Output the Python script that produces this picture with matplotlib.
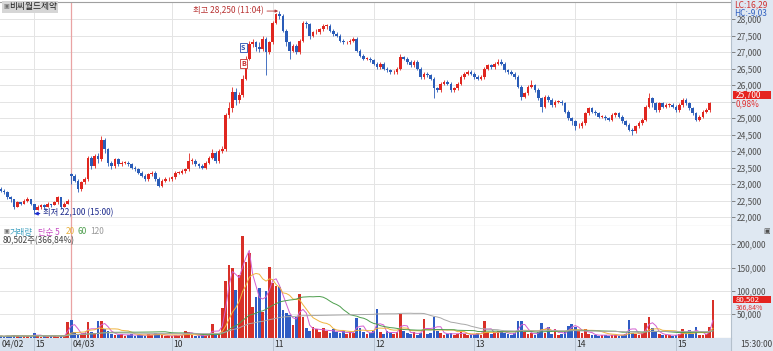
import matplotlib
matplotlib.use("Agg")
import matplotlib.pyplot as plt
import matplotlib.transforms as mtransforms
from matplotlib.patches import Rectangle
from matplotlib.ticker import FuncFormatter
import numpy as np
import pandas as pd

plt.rcParams['font.family'] = ['Noto Sans CJK KR', 'DejaVu Sans']
plt.rcParams['font.size'] = 6

stock_name = "비씨월드제약"
hi_label = "최고 28,250 (11:04)"
lo_label = "최저 22,100 (15:00)"

# 2-minute candles, 04/02 14:40-15:20
day1_opens = [22850, 22800, 22750, 22600, 22550, 22300, 22450, 22400, 22500, 22550,
              22400, 22200, 22300, 22350, 22300, 22400, 22350, 22450, 22600, 22300, 22400]
day1_highs = [22900, 22850, 22800, 22650, 22550, 22500, 22450, 22550, 22600, 22550,
              22400, 22350, 22400, 22400, 22450, 22400, 22500, 22650, 22600, 22450, 22550]
day1_lows = [22750, 22700, 22550, 22450, 22250, 22300, 22350, 22400, 22450, 22350,
             22100, 22200, 22250, 22250, 22300, 22300, 22350, 22400, 22250, 22300, 22400]
day1_closes = [22800, 22750, 22600, 22550, 22300, 22450, 22400, 22500, 22550, 22400,
               22200, 22300, 22350, 22300, 22400, 22350, 22450, 22600, 22300, 22400, 22500]
day1_vol_k = [3, 2, 4, 3, 5, 3, 2, 4, 3, 2, 10, 3, 2, 3, 2, 4, 3, 2, 3, 4, 34]

# 2-minute candles, 04/03 09:00-15:20, last one = closing auction
day2_opens = [
    23300, 23250, 23100, 22850, 23050, 23150, 23800, 23550, 23850, 23750,
    24350, 24050, 23650, 23550, 23750, 23600, 23650, 23650, 23600, 23500,
    23450, 23350, 23250, 23150, 23300, 23350, 23150, 22950, 23100, 23150,
    23150, 23200, 23350, 23350, 23400, 23450, 23700, 23700, 23600, 23550,
    23500, 23650, 23800, 23950, 23700, 24000, 24050, 25100, 25300, 25800,
    25550, 25700, 26200, 26800, 27250, 27300, 27150, 27100, 27400, 27000,
    27300, 27900, 28150, 28100, 27650, 27300, 27050, 27200, 27000, 27350,
    27900, 27850, 27500, 27600, 27600, 27700, 27800, 27800, 27650, 27550,
    27500, 27350, 27300, 27300, 27350, 27400, 27050, 26900, 26800, 26800,
    26750, 26650, 26550, 26650, 26500, 26450, 26400, 26400, 26500, 26850,
    26800, 26700, 26600, 26700, 26500, 26250, 26350, 26300, 26200, 25900,
    25850, 26050, 26100, 26050, 25850, 25900, 26050, 26250, 26350, 26400,
    26350, 26250, 26200, 26250, 26500, 26600, 26550, 26650, 26700, 26650,
    26450, 26400, 26350, 26250, 25950, 25650, 25750, 25950, 26000, 25850,
    25600, 25350, 25650, 25550, 25400, 25500, 25500, 25450, 25200, 25000,
    24900, 24750, 24750, 24850, 25150, 25300, 25200, 25150, 25050, 25050,
    25000, 24950, 25100, 25150, 25050, 24900, 24800, 24650, 24600, 24750,
    24850, 24950, 25350, 25600, 25450, 25250, 25450, 25350, 25400, 25400,
    25350, 25250, 25400, 25550, 25450, 25300, 25150, 24950, 25050, 25200,
    25250, 25700]
day2_highs = [
    23350, 23300, 23150, 23100, 23200, 23850, 23850, 23900, 23950, 24450,
    24400, 24100, 23700, 23800, 23800, 23700, 23700, 23700, 23650, 23550,
    23500, 23400, 23300, 23350, 23400, 23400, 23200, 23150, 23200, 23200,
    23250, 23400, 23400, 23450, 23500, 23950, 23800, 23750, 23650, 23600,
    23700, 23850, 24050, 24000, 24050, 24150, 25150, 25500, 25950, 25900,
    25800, 26300, 26900, 27350, 27400, 27350, 27300, 27500, 27450, 27350,
    27950, 28200, 28250, 28150, 27700, 27350, 27250, 27250, 27400, 27950,
    27950, 27900, 27650, 27700, 27750, 27850, 27850, 27850, 27700, 27600,
    27550, 27400, 27350, 27400, 27450, 27450, 27100, 26950, 26850, 26850,
    26800, 26700, 26700, 26700, 26550, 26500, 26450, 26550, 26950, 26900,
    26850, 26750, 26750, 26750, 26550, 26400, 26400, 26350, 26250, 25950,
    26100, 26150, 26150, 26100, 25950, 26100, 26300, 26400, 26450, 26450,
    26400, 26300, 26300, 26550, 26650, 26650, 26700, 26800, 26800, 26700,
    26500, 26450, 26400, 26300, 26000, 25800, 26000, 26150, 26050, 25900,
    25650, 25700, 25700, 25600, 25550, 25550, 25550, 25500, 25250, 25050,
    24950, 24850, 24900, 25200, 25350, 25350, 25250, 25200, 25100, 25100,
    25050, 25150, 25200, 25200, 25100, 24950, 24850, 24700, 24800, 24900,
    25000, 25400, 25750, 25650, 25500, 25500, 25500, 25450, 25450, 25450,
    25400, 25450, 25600, 25600, 25500, 25350, 25200, 25100, 25250, 25300,
    25500, 25700]
day2_lows = [
    23000, 23050, 22750, 22800, 23000, 23100, 23450, 23500, 23650, 23700,
    23950, 23550, 23450, 23500, 23550, 23550, 23600, 23550, 23450, 23400,
    23300, 23200, 23100, 23100, 23250, 23100, 22900, 22900, 23050, 23100,
    23100, 23150, 23300, 23300, 23350, 23400, 23600, 23550, 23500, 23450,
    23450, 23600, 23750, 23650, 23650, 23950, 24000, 25000, 25200, 25400,
    25450, 25650, 26150, 26750, 27150, 27050, 27000, 27050, 26300, 26950,
    27250, 27850, 28000, 27600, 27200, 26800, 27000, 26950, 26950, 27300,
    27750, 27400, 27450, 27550, 27550, 27650, 27700, 27600, 27500, 27450,
    27300, 27250, 27250, 27250, 27300, 27000, 26850, 26750, 26750, 26700,
    26600, 26500, 26500, 26450, 26400, 26350, 26350, 26350, 26450, 26750,
    26650, 26550, 26550, 26450, 26200, 26200, 26250, 26150, 25600, 25800,
    25800, 26000, 26000, 25800, 25800, 25850, 26000, 26200, 26300, 26300,
    26200, 26150, 26150, 26200, 26450, 26500, 26500, 26600, 26600, 26400,
    26350, 26300, 26200, 25900, 25550, 25600, 25700, 25900, 25800, 25550,
    25200, 25300, 25500, 25350, 25350, 25450, 25400, 25150, 24950, 24800,
    24650, 24700, 24700, 24800, 25100, 25150, 25100, 25000, 25000, 24950,
    24900, 24900, 25050, 25000, 24850, 24750, 24600, 24500, 24550, 24700,
    24800, 24900, 25300, 25350, 25200, 25200, 25300, 25300, 25350, 25300,
    25200, 25200, 25350, 25400, 25250, 25100, 24900, 24900, 25000, 25150,
    25200, 25700]
day2_closes = [
    23250, 23100, 22850, 23050, 23150, 23800, 23550, 23850, 23750, 24350,
    24050, 23650, 23550, 23750, 23600, 23650, 23650, 23600, 23500, 23450,
    23350, 23250, 23150, 23300, 23350, 23150, 22950, 23100, 23150, 23150,
    23200, 23350, 23350, 23400, 23450, 23700, 23700, 23600, 23550, 23500,
    23650, 23800, 23950, 23700, 24000, 24050, 25100, 25300, 25800, 25550,
    25700, 26200, 26800, 27250, 27300, 27150, 27100, 27400, 27000, 27300,
    27900, 28150, 28100, 27650, 27300, 27050, 27200, 27000, 27350, 27900,
    27850, 27500, 27600, 27600, 27700, 27800, 27800, 27650, 27550, 27500,
    27350, 27300, 27300, 27350, 27400, 27050, 26900, 26800, 26800, 26750,
    26650, 26550, 26650, 26500, 26450, 26400, 26400, 26500, 26850, 26800,
    26700, 26600, 26700, 26500, 26250, 26350, 26300, 26200, 25900, 25850,
    26050, 26100, 26050, 25850, 25900, 26050, 26250, 26350, 26400, 26350,
    26250, 26200, 26250, 26500, 26600, 26550, 26650, 26700, 26650, 26450,
    26400, 26350, 26250, 25950, 25650, 25750, 25950, 26000, 25850, 25600,
    25350, 25650, 25550, 25400, 25500, 25500, 25450, 25200, 25000, 24900,
    24750, 24750, 24850, 25150, 25300, 25200, 25150, 25050, 25050, 25000,
    24950, 25100, 25150, 25050, 24900, 24800, 24650, 24600, 24750, 24850,
    24950, 25350, 25600, 25450, 25250, 25450, 25350, 25400, 25400, 25350,
    25250, 25400, 25550, 25450, 25300, 25150, 24950, 25050, 25200, 25250,
    25450, 25700]
day2_vol_k = [
    37, 12, 8, 6, 10, 34, 12, 10, 36, 36,
    18, 15, 8, 6, 5, 8, 4, 5, 7, 4,
    5, 6, 4, 7, 5, 10, 8, 5, 3, 4,
    3, 5, 4, 6, 13, 12, 5, 4, 3, 5,
    4, 6, 30, 5, 7, 63, 121, 155, 149, 102,
    134, 218, 162, 181, 65, 87, 106, 55, 100, 151,
    117, 110, 108, 59, 52, 48, 27, 44, 93, 44,
    20, 15, 22, 18, 12, 20, 15, 10, 18, 12,
    10, 14, 8, 12, 10, 42, 20, 12, 8, 10,
    15, 61, 12, 8, 14, 10, 8, 12, 50, 15,
    10, 8, 12, 6, 10, 40, 8, 10, 44, 15,
    10, 6, 8, 10, 6, 8, 12, 8, 6, 5,
    8, 10, 6, 36, 12, 8, 10, 15, 12, 10,
    8, 6, 10, 36, 36, 12, 8, 10, 6, 12,
    31, 10, 23, 8, 19, 6, 8, 12, 25, 29,
    23, 15, 10, 18, 8, 6, 5, 4, 6, 5,
    4, 6, 5, 4, 6, 8, 37, 10, 8, 6,
    10, 31, 44, 20, 12, 8, 6, 5, 6, 4,
    5, 8, 18, 10, 16, 8, 23, 6, 5, 8,
    23, 80.502]

hour_slots = [19, 41, 101, 161, 221, 281, 341, 401]
hour_labels = ["15", "04/03", "10", "11", "12", "13", "14", "15"]
ma_windows = [3, 10, 30, 60]   # 5/20/60/120 one-minute bars
ma_colors = ["#d35fd0", "#efb43c", "#4d9e4d", "#a8a8a8"]
signal_s, signal_b = 27150, 26650
last_price, last_pct, vol_pct = 25700, "0,98%", "366,84%"

# ---------------------------------------------------------------
opens = np.array(day1_opens + day2_opens, float)
highs = np.array(day1_highs + day2_highs, float)
lows = np.array(day1_lows + day2_lows, float)
closes = np.array(day1_closes + day2_closes, float)
volumes = np.array(day1_vol_k + day2_vol_k) * 1000

# one slot = one minute on screen
slots = np.concatenate([np.arange(-1, 40, 2), np.arange(41, 422, 2), [423]])

W, H = 773, 351
RED, BLUE = "#e0261f", "#2a5cb8"
up = closes >= opens
colors = np.where(up, RED, BLUE)

fig = plt.figure(figsize=(W / 100, H / 100), dpi=100)


def box(x0, y0, x1, y1):
    return [x0 / W, 1 - y1 / H, (x1 - x0) / W, (y1 - y0) / H]


def ftext(xp, yp, s, **kw):
    return fig.text(xp / W, 1 - yp / H, s, **kw)


fig.add_artist(Rectangle((731 / W, 0), 42 / W, 1, transform=fig.transFigure,
                         facecolor="#dfe8f2", edgecolor="none", zorder=0))

ax = fig.add_axes(box(0, 2, 731, 226))
axv = fig.add_axes(box(0, 226, 731, 337.5))
axb = fig.add_axes(box(0, 338, 731, 351))

xmin, xmax = (0 - 2.3) / 1.68, (731 - 2.3) / 1.68

for a in (ax, axv):
    a.set_xlim(xmin, xmax)
    a.set_xticks(hour_slots)
    a.tick_params(axis="x", length=0, labelbottom=False)
    a.yaxis.tick_right()
    a.tick_params(axis="y", direction="out", length=3, width=0.6, pad=1,
                  labelsize=6, labelcolor="#505050", color="#707070")
    a.grid(True, color="#e4e4e4", lw=0.7)
    a.set_axisbelow(True)
    a.axvline(41, color="#e9a3a3", lw=0.9, zorder=1)
    for sp in ("right", "left"):
        a.spines[sp].set_visible(False)
    a.spines["top"].set_color("#a0a0a0")
    a.spines["bottom"].set_color("#a0a0a0")

# price panel; the tick under the current-price tag is covered
ax.set_ylim(21727, 28525)
ax.set_yticks(np.arange(22000, 28001, 500))
ax.yaxis.set_major_formatter(FuncFormatter(
    lambda v, p: "" if abs(v - last_price) < 300 else f"{int(v):,}"))
ax.vlines(slots, lows, highs, colors=colors, lw=0.6, zorder=2)
body = np.maximum(np.abs(closes - opens), 15)
ax.bar(slots, body, bottom=np.minimum(opens, closes), width=1.6,
       color=colors, lw=0, zorder=3)

i_hi = int(np.argmax(highs))
i_lo = int(np.argmin(lows))
ax.annotate(hi_label, xy=(slots[i_hi], highs[i_hi]), xytext=(-11, 0),
            textcoords="offset points", ha="right", va="center",
            color="#b83232", fontsize=6,
            arrowprops=dict(arrowstyle="-|>", color="#b83232", lw=0.6,
                            mutation_scale=4, shrinkA=0, shrinkB=1))
ax.annotate(lo_label, xy=(slots[i_lo], lows[i_lo]), xytext=(6, 1),
            textcoords="offset points", ha="left", va="center",
            color="#1c2a8c", fontsize=6,
            arrowprops=dict(arrowstyle="-|>", color="#1f2fd0", lw=0.8,
                            mutation_scale=5, shrinkA=0, shrinkB=0))
ax.text(143.5, signal_s, "S", ha="center", va="center", fontsize=5,
        color="#2a4fb0", fontweight="bold",
        bbox=dict(boxstyle="square,pad=0.15", fc="white", ec="#2a4fb0", lw=0.6))
ax.text(143.5, signal_b, "B", ha="center", va="center", fontsize=5,
        color="#c83030", fontweight="bold",
        bbox=dict(boxstyle="square,pad=0.15", fc="white", ec="#c83030", lw=0.6))

# volume panel
axv.set_ylim(0, 239300)
axv.set_yticks([50000, 100000, 150000, 200000])
axv.yaxis.set_major_formatter(FuncFormatter(lambda v, p: f"{int(v):,}"))
axv.spines["top"].set_visible(False)
axv.bar(slots, volumes, width=1.6, color=np.where(up, "#d83028", "#2f5cc4"),
        lw=0, zorder=2)
vs = pd.Series(volumes)
for w, c in zip(ma_windows, ma_colors):
    axv.plot(slots, vs.rolling(w, min_periods=1).mean(), color=c, lw=0.7, zorder=3)

# time band
axb.set_xlim(xmin, xmax)
axb.set_ylim(0, 1)
axb.set_facecolor("#d7e2ef")
axb.set_xticks([])
axb.set_yticks([])
for sp in axb.spines.values():
    sp.set_visible(False)
axb.text(xmin + 1.2, 0.5, "04/02", va="center", ha="left", fontsize=6.2, color="#303030")
for s, lab in zip(hour_slots, hour_labels):
    axb.axvline(s, color="#b8c4d2", lw=0.7)
    axb.text(s + 0.8, 0.5, lab, va="center", ha="left", fontsize=6.2, color="#303030")
ftext(740, 344.5, "15:30:00", va="center", ha="left", fontsize=6, color="#404040")

# right scale extras
fig.add_artist(plt.Line2D([731 / W, 731 / W], [0, 1], transform=fig.transFigure,
                          color="#b4c0cc", lw=0.8))
ftext(734, 5, "LC:16,29", va="center", ha="left", fontsize=6, color="#d03030")
ftext(734, 12.5, "HC:-9,03", va="center", ha="left", fontsize=6, color="#3060c0")

tp = mtransforms.blended_transform_factory(fig.transFigure, ax.transData)
fig.add_artist(Rectangle((733 / W, last_price - 125), 38 / W, 250, transform=tp,
                         facecolor="#e52420", edgecolor="none"))
fig.text(736 / W, last_price, f"{last_price:,}", transform=tp, va="center", ha="left",
         fontsize=6, color="white")
fig.text(736 / W, last_price - 250, last_pct, transform=tp, va="center", ha="left",
         fontsize=6, color="#e03030")

tv = mtransforms.blended_transform_factory(fig.transFigure, axv.transData)
fig.add_artist(Rectangle((733 / W, volumes[-1] - 7500), 38 / W, 17000, transform=tv,
                         facecolor="#e52420", edgecolor="none"))
fig.text(736 / W, volumes[-1] + 1000, f"{int(volumes[-1]):,}", transform=tv,
         va="center", ha="left", fontsize=5.6, color="white")
fig.text(736 / W, volumes[-1] - 16500, vol_pct, transform=tv, va="center",
         ha="left", fontsize=5.0, color="#e03030")
ftext(767, 231, "▣", va="center", ha="center", fontsize=5, color="#505050",
      family="DejaVu Sans")

# titles / legends
fig.add_artist(Rectangle((2 / W, 1 - 12.5 / H), 56 / W, 11 / H, transform=fig.transFigure,
                         facecolor="#d6d6d6", edgecolor="none"))
ftext(3, 7, "▣", va="center", ha="left", fontsize=4.5, color="#707070", family="DejaVu Sans")
ftext(9.5, 7, stock_name, va="center", ha="left", fontsize=6.3, color="#202020")

ftext(3, 232, "▣", va="center", ha="left", fontsize=4.5, color="#707070", family="DejaVu Sans")
legend_parts = [(10, "거래량", "#3d9fbf"), (38, "단순 5", "#c84fc4"), (66, "20", "#e8b040"),
                (78, "60", "#4d9e4d"), (90, "120", "#9a9a9a")]
for xp, s, c in legend_parts:
    ftext(xp, 232, s, va="center", ha="left", fontsize=6, color=c)
ftext(3, 241, f"{int(volumes[-1]):,}주({vol_pct})", va="center", ha="left",
      fontsize=6, color="#404040")

fig.savefig("out.png", dpi=100, facecolor="white")
